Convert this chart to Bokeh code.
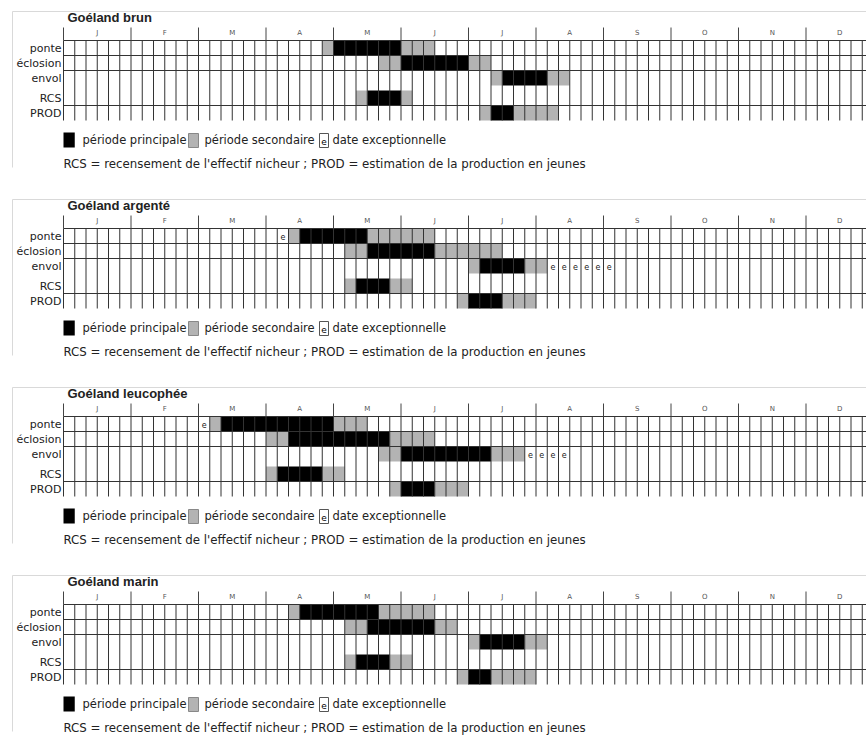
from bokeh.plotting import figure
from bokeh.models import Range1d
from bokeh.embed import file_html
from bokeh.resources import INLINE
from bokeh.core.properties import value

# ---------------- data ----------------
months = ["J", "F", "M", "A", "M", "J", "J", "A", "S", "O", "N", "D"]
periods_per_month = 6          # 5-day periods
rows = ["ponte", "éclosion", "envol", "RCS", "PROD"]
species = ["Goéland brun", "Goéland argenté", "Goéland leucophée", "Goéland marin"]

# (first period, last period) inclusive, period index 0..71
brun_main = {"ponte": [(24, 29)], "éclosion": [(30, 35)], "envol": [(39, 42)],
             "RCS": [(27, 29)], "PROD": [(38, 39)]}
brun_sec = {"ponte": [(23, 23), (30, 32)], "éclosion": [(28, 29), (36, 37)],
            "envol": [(38, 38), (43, 44)], "RCS": [(26, 26), (30, 30)],
            "PROD": [(37, 37), (40, 43)]}
brun_exc = {}

argente_main = {"ponte": [(21, 26)], "éclosion": [(27, 32)], "envol": [(37, 40)],
                "RCS": [(26, 28)], "PROD": [(36, 38)]}
argente_sec = {"ponte": [(20, 20), (27, 32)], "éclosion": [(25, 26), (33, 38)],
               "envol": [(36, 36), (41, 42)], "RCS": [(25, 25), (29, 30)],
               "PROD": [(35, 35), (39, 41)]}
argente_exc = {"ponte": [(19, 19)], "envol": [(43, 48)]}

leuco_main = {"ponte": [(14, 23)], "éclosion": [(20, 28)], "envol": [(30, 37)],
              "RCS": [(19, 22)], "PROD": [(30, 32)]}
leuco_sec = {"ponte": [(13, 13), (24, 26)], "éclosion": [(18, 19), (29, 32)],
             "envol": [(28, 29), (38, 40)], "RCS": [(18, 18), (23, 24)],
             "PROD": [(29, 29), (33, 35)]}
leuco_exc = {"ponte": [(12, 12)], "envol": [(41, 44)]}

marin_main = {"ponte": [(21, 27)], "éclosion": [(27, 32)], "envol": [(37, 40)],
              "RCS": [(26, 28)], "PROD": [(36, 37)]}
marin_sec = {"ponte": [(20, 20), (28, 32)], "éclosion": [(25, 26), (33, 34)],
             "envol": [(36, 36), (41, 42)], "RCS": [(25, 25), (29, 30)],
             "PROD": [(35, 35), (38, 41)]}
marin_exc = {}

all_main = [brun_main, argente_main, leuco_main, marin_main]
all_sec = [brun_sec, argente_sec, leuco_sec, marin_sec]
all_exc = [brun_exc, argente_exc, leuco_exc, marin_exc]

legend_labels = ["période principale", "période secondaire", "date exceptionnelle"]
footnote = "RCS = recensement de l'effectif nicheur ; PROD = estimation de la production en jeunes"

# ---------------- layout ----------------
W, H = 866, 737
CW = 11.25            # px per period column
LEFT = 63.0           # px from figure left to period 0
NCOL = periods_per_month * len(months)
PANEL0, PANEL_STEP = 40, 188
ROW_H, GAP = 15, 5

def row_top(i):
    return i * ROW_H if i < 3 else 3 * ROW_H + GAP + (i - 3) * ROW_H

GRID_BOTTOM = row_top(len(rows) - 1) + ROW_H

def px(v):
    return v / CW

BODY = value("DejaVu Sans")
MAIN_C, SEC_C, LINE_C = "black", "#b3b3b3", "#333333"

p = figure(width=W, height=H, output_backend="svg", toolbar_location=None,
           x_range=Range1d(-LEFT / CW, (W - LEFT) / CW), y_range=Range1d(H, 0),
           min_border=0)
p.axis.visible = False
p.grid.visible = False
p.outline_line_color = None
p.background_fill_color = "white"

for s, name in enumerate(species):
    gy = PANEL0 + s * PANEL_STEP

    # light panel frame
    p.segment(x0=[px(-51), px(-51)], y0=[gy - 29, gy - 29],
              x1=[px(W - LEFT), px(-51)], y1=[gy - 29, gy + 127],
              line_color="#d9d9d9", line_width=1)

    # cells
    for kind, color in ((all_main[s], MAIN_C), (all_sec[s], SEC_C)):
        l, r, t, b = [], [], [], []
        for ri, rn in enumerate(rows):
            for a, z in kind.get(rn, []):
                l.append(a); r.append(z + 1)
                t.append(gy + row_top(ri)); b.append(gy + row_top(ri) + ROW_H)
        p.quad(left=l, right=r, top=t, bottom=b, fill_color=color, line_color=None)

    ex, ey = [], []
    for ri, rn in enumerate(rows):
        for a, z in all_exc[s].get(rn, []):
            for c in range(a, z + 1):
                ex.append(c + 0.5); ey.append(gy + row_top(ri) + ROW_H / 2)
    if ex:
        p.text(x=ex, y=ey, text=["e"] * len(ex), text_font=BODY, text_font_size="8px",
               text_align="center", text_baseline="middle", text_color="#222")

    # grid lines
    cols = list(range(NCOL + 1))
    p.segment(x0=cols, x1=cols, y0=[gy] * len(cols), y1=[gy + GRID_BOTTOM] * len(cols),
              line_color=LINE_C, line_width=1)
    hl = [gy + row_top(0), gy + row_top(1), gy + row_top(2), gy + row_top(4)]
    p.segment(x0=[0] * 4, x1=[NCOL] * 4, y0=hl, y1=hl, line_color=LINE_C, line_width=1.2)

    # month header
    mb = [m * periods_per_month for m in range(len(months) + 1)]
    p.segment(x0=mb, x1=mb, y0=[gy - 13] * len(mb), y1=[gy] * len(mb),
              line_color="#444", line_width=1)
    p.text(x=[m * periods_per_month + periods_per_month / 2 for m in range(len(months))],
           y=[gy - 8] * len(months), text=months, text_font=BODY, text_font_size="7px",
           text_align="center", text_baseline="middle", text_color="#555")

    # title
    p.text(x=[px(4)], y=[gy - 23], text=[name], text_font=value("Liberation Sans"),
           text_font_style="bold", text_font_size="13px", text_baseline="middle",
           text_color="#222")

    # row labels
    p.text(x=[px(-2)] * len(rows), y=[gy + row_top(i) + ROW_H / 2 for i in range(len(rows))],
           text=rows, text_font=BODY, text_font_size="11px", text_align="right",
           text_baseline="middle", text_color="#222")

    # legend
    ly0, ly1 = gy + 92, gy + 107
    p.quad(left=[0], right=[1], top=[ly0], bottom=[ly1], fill_color=MAIN_C, line_color=None)
    p.quad(left=[px(125)], right=[px(135)], top=[ly0 + 1], bottom=[ly1], fill_color=SEC_C,
           line_color="#888")
    p.quad(left=[px(256)], right=[px(265)], top=[ly0 + 1], bottom=[ly1], fill_color="white",
           line_color="#555")
    p.text(x=[px(260.5)], y=[(ly0 + ly1) / 2 + 1], text=["e"], text_font=BODY,
           text_font_size="9px", text_align="center", text_baseline="middle")
    p.text(x=[px(19), px(141), px(269)], y=[(ly0 + ly1) / 2] * 3, text=legend_labels,
           text_font=BODY, text_font_size="11.5px", text_baseline="middle", text_color="#222")

    # footnote
    p.text(x=[0], y=[gy + 123], text=[footnote], text_font=BODY, text_font_size="11.8px",
           text_baseline="middle", text_color="#222")

open("out.html", "w").write(file_html(p, INLINE))
